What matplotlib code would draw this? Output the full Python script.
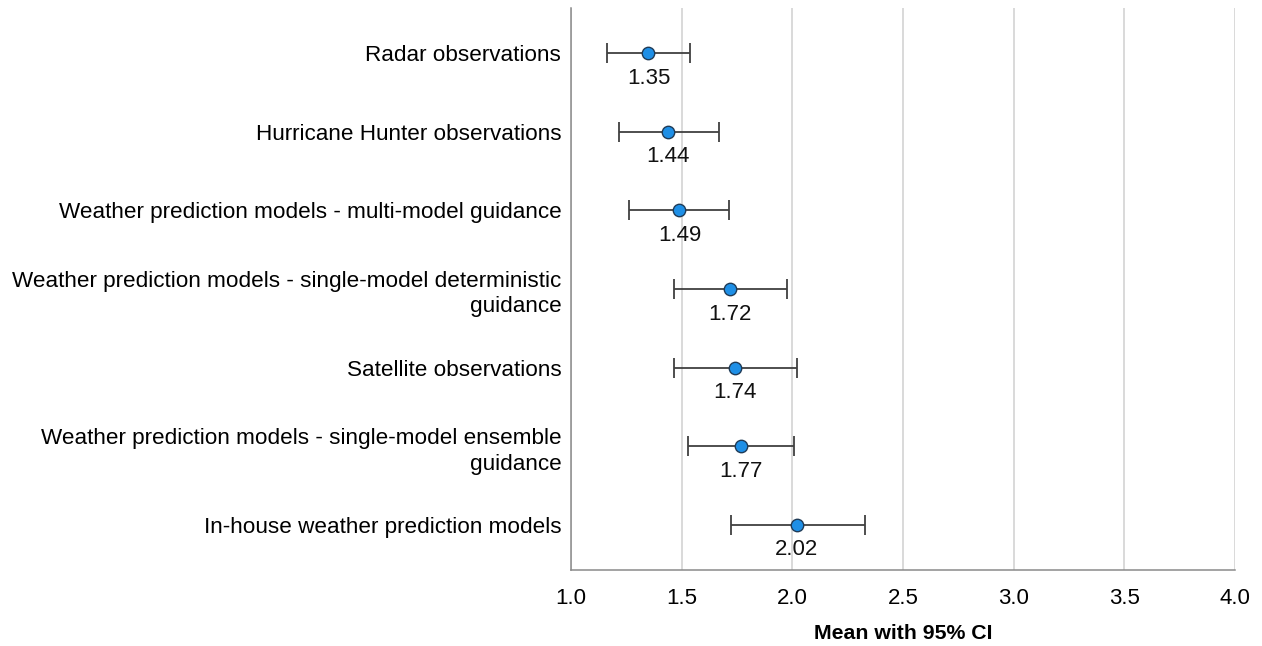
import matplotlib
matplotlib.use("Agg")
import matplotlib.pyplot as plt

categories = [
    "Radar observations",
    "Hurricane Hunter observations",
    "Weather prediction models - multi-model guidance",
    "Weather prediction models - single-model deterministic\nguidance",
    "Satellite observations",
    "Weather prediction models - single-model ensemble\nguidance",
    "In-house weather prediction models",
]
means = [1.35, 1.44, 1.49, 1.72, 1.74, 1.77, 2.02]
ci_low = [1.161, 1.218, 1.264, 1.467, 1.467, 1.530, 1.722]
ci_high = [1.538, 1.670, 1.716, 1.977, 2.023, 2.009, 2.329]
x_ticks = [1.0, 1.5, 2.0, 2.5, 3.0, 3.5, 4.0]

plt.rcParams["font.family"] = ["Liberation Sans", "DejaVu Sans"]

fig = plt.figure(figsize=(12.62, 6.46), dpi=100)
ax = fig.add_axes([571 / 1262, 1 - 570 / 646, 664 / 1262, 562 / 646])

ypos = list(range(len(categories)))
err_lo = [m - l for m, l in zip(means, ci_low)]
err_hi = [h - m for m, h in zip(means, ci_high)]

ax.errorbar(means, ypos, xerr=[err_lo, err_hi], fmt="none",
            ecolor="#404040", elinewidth=1.3, capsize=7.3, capthick=1.3, zorder=3)
ax.scatter(means, ypos, s=80, color="#1e8fe6", edgecolor="#1f3b57",
           linewidth=1.0, zorder=4)

for m, y in zip(means, ypos):
    ax.annotate(f"{m:.2f}", (m, y), xytext=(0, -10.5), textcoords="offset points",
                ha="center", va="top", fontsize=16, color="#111111")

ax.set_xlim(1.0, 4.0)
ax.set_ylim(len(categories) - 1 + 0.575, -0.575)
ax.set_xticks(x_ticks)
ax.set_xticklabels([f"{t:.1f}" for t in x_ticks], fontsize=16)
ax.set_yticks(ypos)
ax.set_yticklabels(categories, fontsize=16.2, linespacing=1.3)
ax.tick_params(axis="both", length=0)
ax.tick_params(axis="y", pad=7)
ax.tick_params(axis="x", pad=13)

ax.grid(axis="x", color="#cfcfcf", linewidth=1.1, zorder=0)
ax.set_axisbelow(True)
for side in ("top", "right"):
    ax.spines[side].set_visible(False)
ax.spines["left"].set_color("#8a8a8a")
ax.spines["bottom"].set_color("#8a8a8a")
ax.spines["left"].set_linewidth(1.1)
ax.spines["bottom"].set_linewidth(1.1)

ax.set_xlabel("Mean with 95% CI", fontsize=15.3, fontweight="bold", labelpad=11)

fig.savefig("out.png", dpi=100)
